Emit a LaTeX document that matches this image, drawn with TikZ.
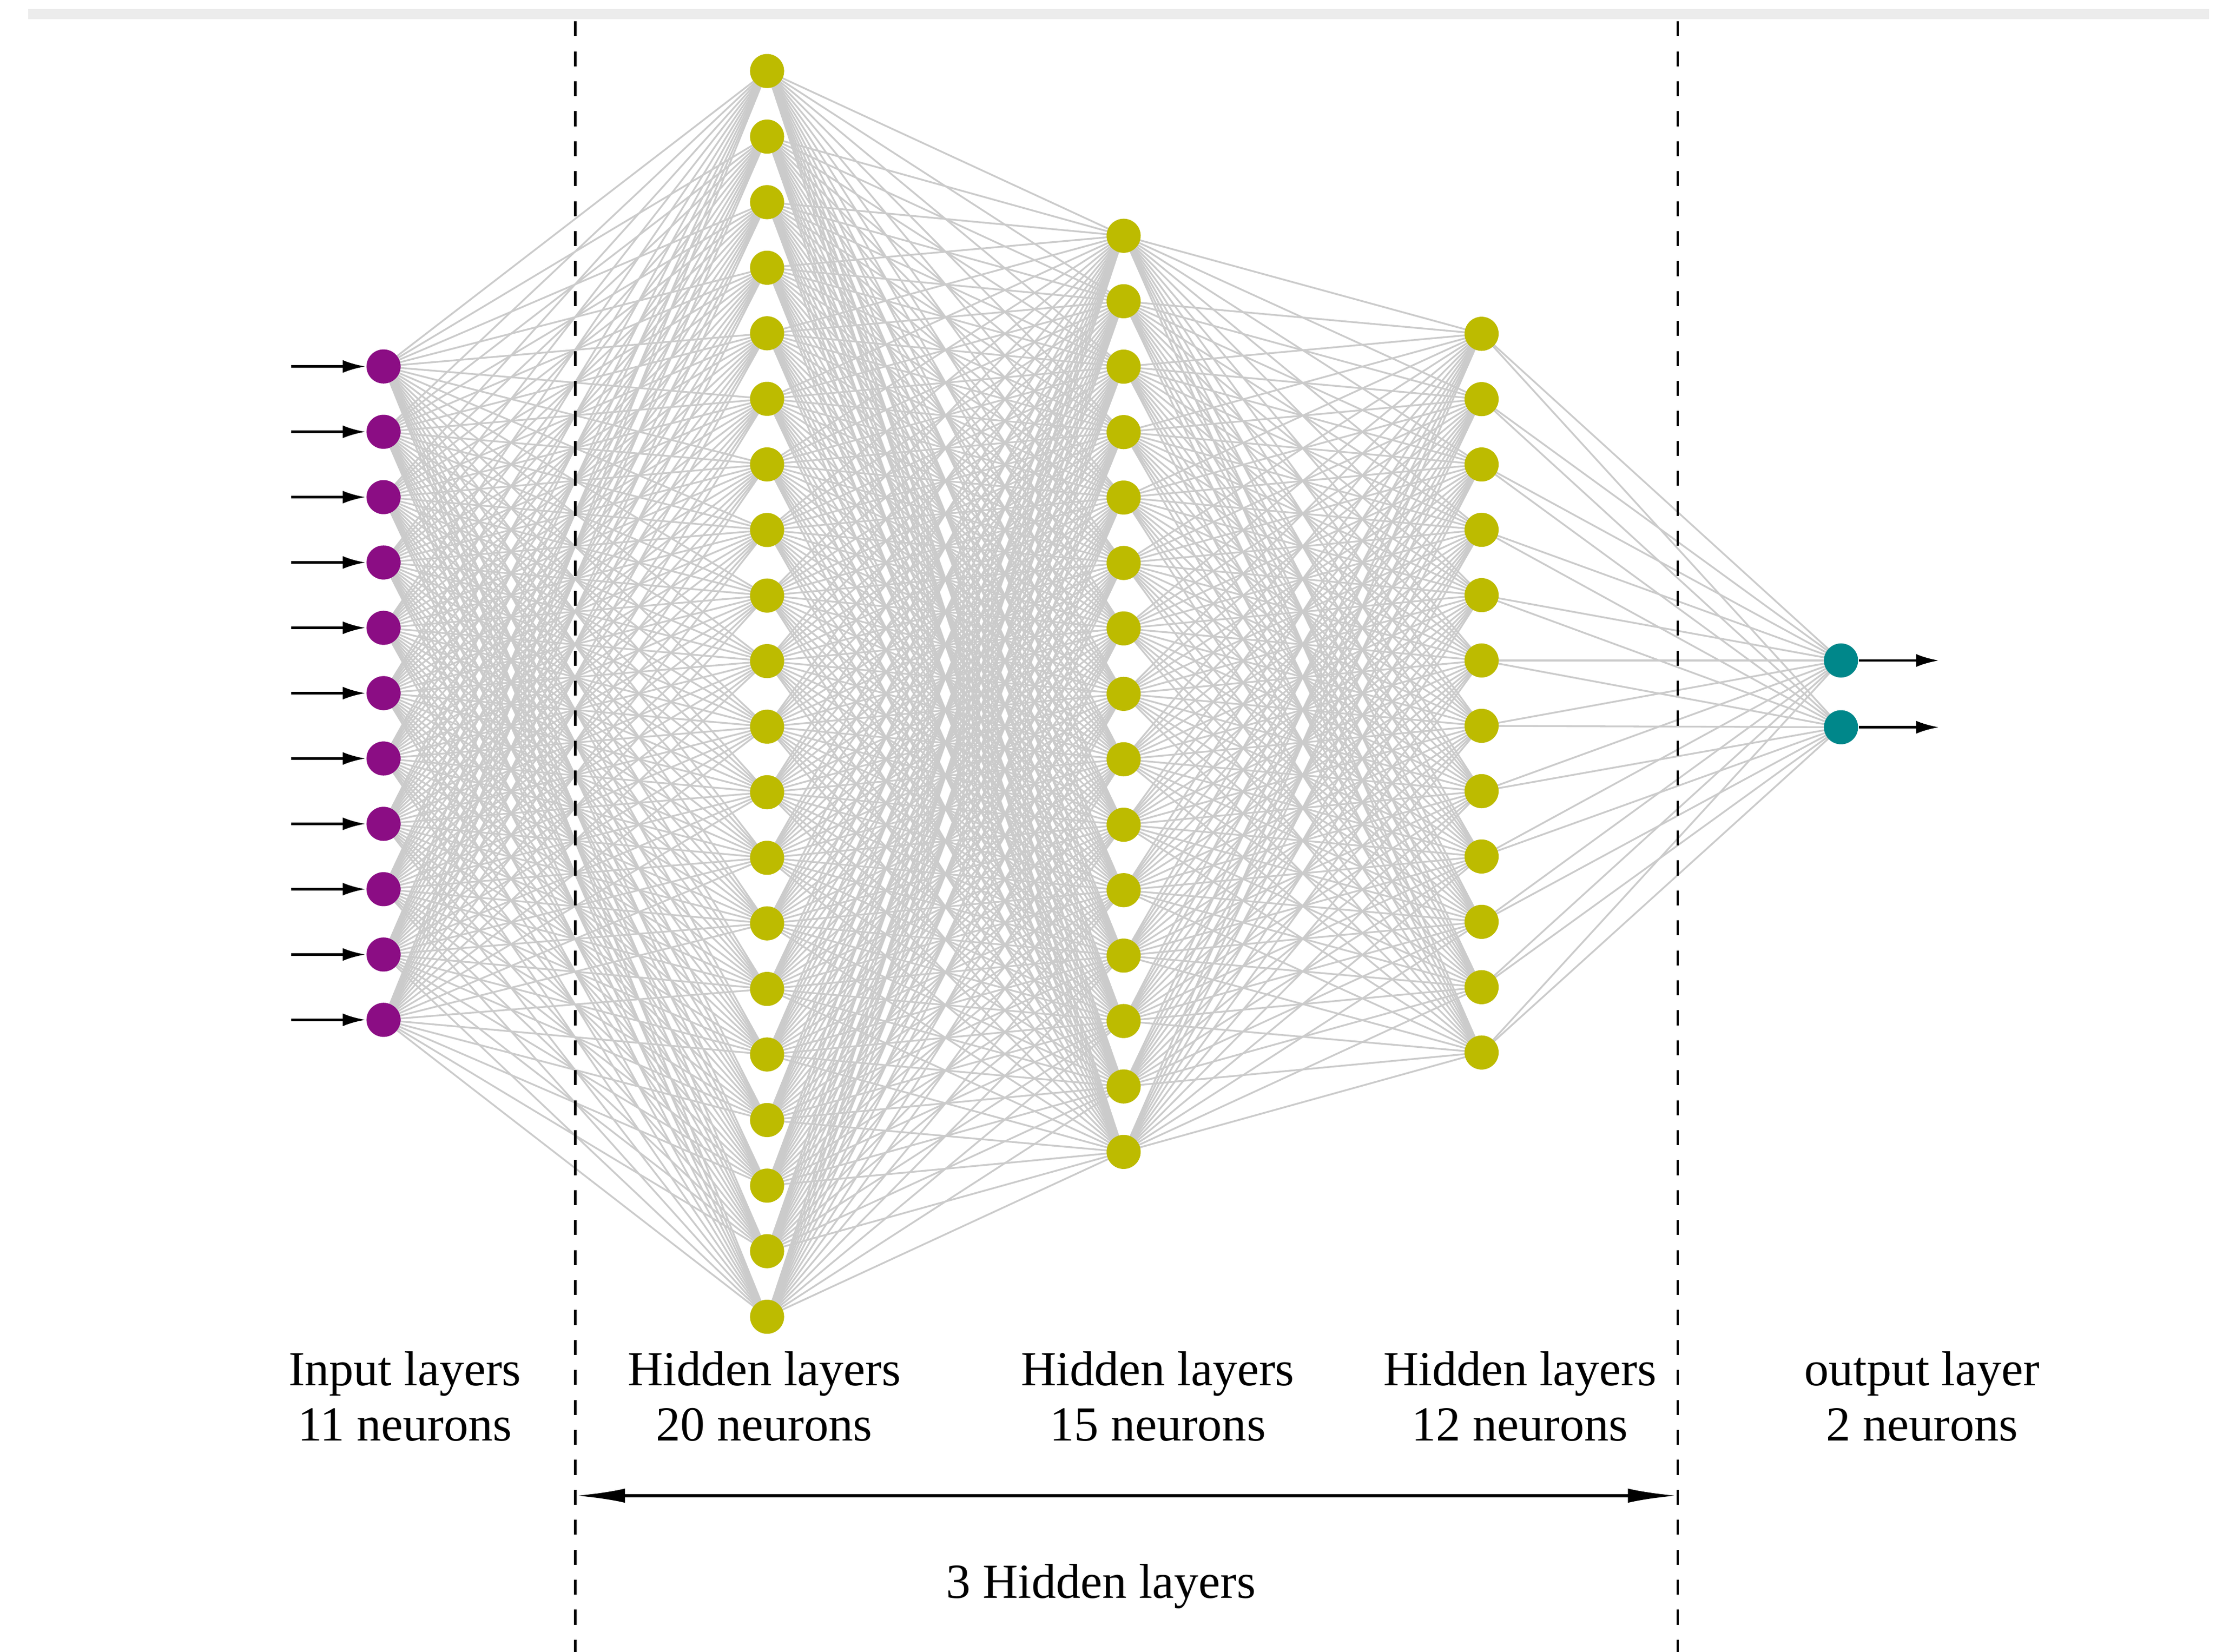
\documentclass[tikz,border=0pt]{standalone}
\usepackage{fontspec}
\setmainfont{Liberation Serif}
\usetikzlibrary{arrows.meta}
\pgfdeclarelayer{bg}
\pgfsetlayers{bg,main}
\definecolor{inpc}{HTML}{8B0D84}
\definecolor{hidc}{HTML}{BDBB00}
\definecolor{outc}{HTML}{00878A}
\definecolor{edgec}{HTML}{CBCBCB}
\tikzset{
  neuron/.style={circle,inner sep=0pt,minimum size=0.24cm},
  inp/.style={neuron,fill=inpc},
  hid/.style={neuron,fill=hidc},
  outn/.style={neuron,fill=outc},
  conn/.style={edgec,line width=0.35pt},
  io/.style={-{Latex[length=0.16cm,width=0.09cm]},line width=0.5pt},
  sep/.style={dashed,line width=0.5pt},
  lbl/.style={align=center,font=\fontsize{9.8}{11.1}\selectfont}
}
\begin{document}
\begin{tikzpicture}[x=0.01cm,y=-0.01cm]
\useasboundingbox (0,0) rectangle (1560,1163);
% nodes
\foreach \i in {1,...,11} \node[inp] (a\i) at (270,{258+46*(\i-1)}) {};
\foreach \i in {1,...,20} \node[hid] (b\i) at (540,{50+46.16*(\i-1)}) {};
\foreach \i in {1,...,15} \node[hid] (c\i) at (791,{166+46.07*(\i-1)}) {};
\foreach \i in {1,...,12} \node[hid] (d\i) at (1043,{235+46*(\i-1)}) {};
\node[outn] (e1) at (1296,465) {};
\node[outn] (e2) at (1296,512) {};
\begin{pgfonlayer}{bg}
\fill[white] (0,0) rectangle (1560,1163);
\draw[gray!15,line width=2pt] (20,10) -- (1555,10);
\foreach \i in {1,...,11} \foreach \j in {1,...,20} \draw[conn] (a\i.center) -- (b\j.center);
\foreach \i in {1,...,20} \foreach \j in {1,...,15} \draw[conn] (b\i.center) -- (c\j.center);
\foreach \i in {1,...,15} \foreach \j in {1,...,12} \draw[conn] (c\i.center) -- (d\j.center);
\foreach \i in {1,...,12} \foreach \j in {1,2} \draw[conn] (d\i.center) -- (e\j.center);
\end{pgfonlayer}
% io arrows
\foreach \i in {1,...,11} {
  \coordinate (s\i) at (205,{258+46*(\i-1)});
  \draw[io] (s\i) -- (a\i.west);
}
\coordinate (t1) at (1365,465);
\coordinate (t2) at (1365,512);
\draw[io] (e1.east) -- (t1);
\draw[io] (e2.east) -- (t2);
% separators
\coordinate (l1) at (405,15); \coordinate (l2) at (405,1163);
\coordinate (r1) at (1181,15); \coordinate (r2) at (1181,1163);
\draw[sep] (l1) -- (l2);
\draw[sep] (r1) -- (r2);
\coordinate (h1) at (405,1053); \coordinate (h2) at (1181,1053);
\draw[{Latex[length=0.35cm,width=0.1cm]}-{Latex[length=0.35cm,width=0.1cm]},line width=0.7pt] (h1) -- (h2);
% labels
\node[lbl] (L1) at (285,983) {Input layers\\11 neurons};
\node[lbl] (L2) at (538,983) {Hidden layers\\20 neurons};
\node[lbl] (L3) at (815,983) {Hidden layers\\15 neurons};
\node[lbl] (L4) at (1070,983) {Hidden layers\\12 neurons};
\node[lbl] (L5) at (1353,983) {output layer\\2 neurons};
\node[lbl] (L6) at (775,1117) {3 Hidden layers};
\end{tikzpicture}
\end{document}
